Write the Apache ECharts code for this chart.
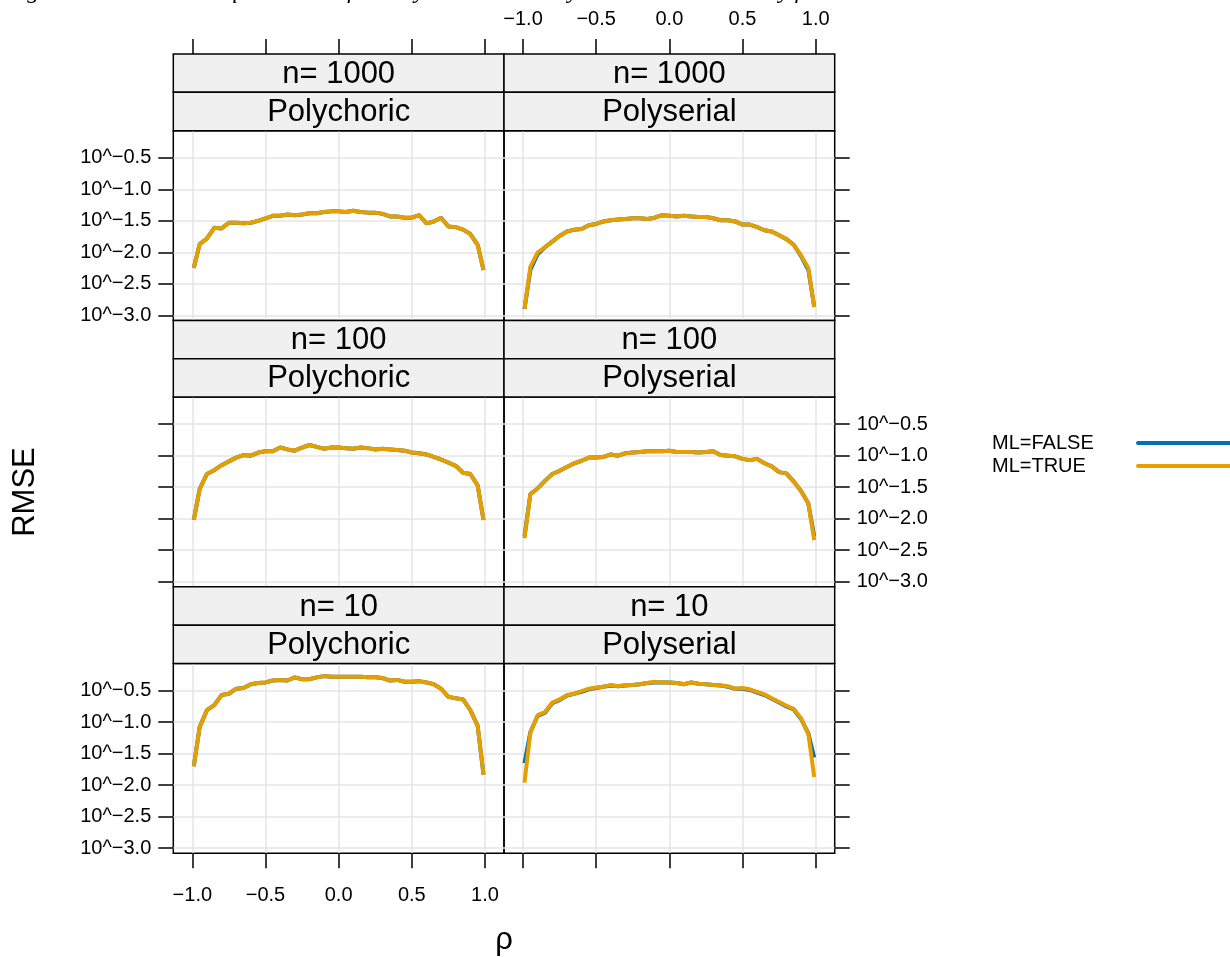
<!DOCTYPE html>
<html><head><meta charset="utf-8">
<script src="https://cdn.jsdelivr.net/npm/echarts@6/dist/echarts.min.js"></script>
<style>html,body{margin:0;padding:0;background:#fff}#c{width:1230px;height:957px}</style>
</head><body><div id="c"></div><script>
// ---- data (log10 RMSE) ----
const rho = [-0.99,-0.95,-0.90,-0.85,-0.80,-0.75,-0.70,-0.65,-0.60,-0.55,-0.50,-0.45,-0.40,-0.35,-0.30,-0.25,-0.20,-0.15,-0.10,-0.05,0.00,0.05,0.10,0.15,0.20,0.25,0.30,0.35,0.40,0.45,0.50,0.55,0.60,0.65,0.70,0.75,0.80,0.85,0.90,0.95,0.99];
const sampleSizes = ['n= 1000','n= 100','n= 10'];
const corrTypes = ['Polychoric','Polyserial'];
const seriesNames = ['ML=FALSE','ML=TRUE'];
const xTicks = [-1.0,-0.5,0.0,0.5,1.0];
const yTicks = [-3.0,-2.5,-2.0,-1.5,-1.0,-0.5];

const n1000_polychoric_false = [-2.25,-1.87,-1.78,-1.61,-1.62,-1.53,-1.53,-1.54,-1.53,-1.50,-1.46,-1.42,-1.42,-1.40,-1.41,-1.40,-1.38,-1.38,-1.36,-1.35,-1.35,-1.36,-1.34,-1.36,-1.37,-1.37,-1.39,-1.43,-1.43,-1.45,-1.45,-1.41,-1.54,-1.51,-1.45,-1.59,-1.60,-1.64,-1.71,-1.88,-2.28];
const n1000_polychoric_true  = [-2.25,-1.87,-1.78,-1.61,-1.62,-1.53,-1.53,-1.54,-1.53,-1.50,-1.46,-1.42,-1.42,-1.40,-1.41,-1.40,-1.38,-1.38,-1.36,-1.35,-1.35,-1.36,-1.34,-1.36,-1.37,-1.37,-1.39,-1.43,-1.43,-1.45,-1.45,-1.41,-1.54,-1.51,-1.45,-1.59,-1.60,-1.64,-1.71,-1.88,-2.28];
const n1000_polyserial_false = [-2.90,-2.28,-2.03,-1.92,-1.83,-1.74,-1.67,-1.64,-1.63,-1.57,-1.55,-1.51,-1.49,-1.48,-1.47,-1.46,-1.46,-1.47,-1.45,-1.41,-1.42,-1.43,-1.42,-1.43,-1.44,-1.44,-1.46,-1.49,-1.49,-1.51,-1.56,-1.56,-1.60,-1.65,-1.67,-1.73,-1.79,-1.88,-2.06,-2.28,-2.86];
const n1000_polyserial_true  = [-2.90,-2.23,-2.00,-1.92,-1.83,-1.74,-1.67,-1.64,-1.63,-1.57,-1.55,-1.51,-1.49,-1.48,-1.47,-1.46,-1.46,-1.47,-1.45,-1.41,-1.42,-1.43,-1.42,-1.43,-1.44,-1.44,-1.46,-1.49,-1.49,-1.51,-1.56,-1.56,-1.60,-1.65,-1.67,-1.73,-1.79,-1.88,-2.05,-2.25,-2.87];
const n100_polychoric_false  = [-2.02,-1.53,-1.29,-1.23,-1.15,-1.09,-1.03,-0.99,-1.00,-0.95,-0.93,-0.93,-0.87,-0.90,-0.92,-0.87,-0.83,-0.86,-0.89,-0.87,-0.87,-0.88,-0.89,-0.87,-0.88,-0.90,-0.89,-0.90,-0.91,-0.92,-0.95,-0.96,-0.98,-1.02,-1.06,-1.11,-1.16,-1.27,-1.29,-1.47,-2.02];
const n100_polychoric_true   = [-2.02,-1.53,-1.29,-1.23,-1.15,-1.09,-1.03,-0.99,-1.00,-0.95,-0.93,-0.93,-0.87,-0.90,-0.92,-0.87,-0.83,-0.86,-0.89,-0.87,-0.87,-0.88,-0.89,-0.87,-0.88,-0.90,-0.89,-0.90,-0.91,-0.92,-0.95,-0.96,-0.98,-1.02,-1.06,-1.11,-1.16,-1.27,-1.29,-1.47,-2.02];
const n100_polyserial_false  = [-2.28,-1.61,-1.52,-1.40,-1.29,-1.24,-1.18,-1.12,-1.08,-1.03,-1.03,-1.02,-0.98,-1.00,-0.96,-0.95,-0.94,-0.93,-0.93,-0.93,-0.92,-0.94,-0.94,-0.94,-0.95,-0.94,-0.93,-0.99,-1.00,-1.01,-1.05,-1.07,-1.05,-1.12,-1.17,-1.26,-1.28,-1.41,-1.56,-1.76,-2.28];
const n100_polyserial_true   = [-2.31,-1.61,-1.52,-1.40,-1.29,-1.24,-1.18,-1.12,-1.08,-1.03,-1.03,-1.02,-0.98,-1.00,-0.96,-0.95,-0.94,-0.93,-0.93,-0.93,-0.92,-0.94,-0.94,-0.94,-0.95,-0.94,-0.93,-0.99,-1.00,-1.01,-1.05,-1.07,-1.05,-1.12,-1.17,-1.26,-1.28,-1.41,-1.56,-1.76,-2.34];
const n10_polychoric_false   = [-1.70,-1.08,-0.81,-0.73,-0.57,-0.55,-0.47,-0.46,-0.40,-0.38,-0.37,-0.34,-0.33,-0.34,-0.29,-0.32,-0.32,-0.29,-0.27,-0.28,-0.28,-0.28,-0.28,-0.28,-0.29,-0.29,-0.30,-0.34,-0.33,-0.36,-0.36,-0.35,-0.37,-0.40,-0.47,-0.60,-0.62,-0.64,-0.81,-1.06,-1.83];
const n10_polychoric_true    = [-1.70,-1.08,-0.81,-0.73,-0.57,-0.55,-0.47,-0.46,-0.40,-0.38,-0.37,-0.34,-0.33,-0.34,-0.29,-0.32,-0.32,-0.29,-0.27,-0.28,-0.28,-0.28,-0.28,-0.28,-0.29,-0.29,-0.30,-0.34,-0.33,-0.36,-0.36,-0.35,-0.37,-0.40,-0.47,-0.60,-0.62,-0.64,-0.81,-1.06,-1.83];
const n10_polyserial_false   = [-1.65,-1.16,-0.90,-0.85,-0.70,-0.65,-0.58,-0.55,-0.52,-0.48,-0.46,-0.44,-0.42,-0.43,-0.42,-0.41,-0.40,-0.38,-0.37,-0.37,-0.37,-0.38,-0.40,-0.37,-0.39,-0.40,-0.41,-0.42,-0.44,-0.47,-0.47,-0.49,-0.53,-0.57,-0.63,-0.69,-0.75,-0.80,-0.95,-1.18,-1.56];
const n10_polyserial_true    = [-1.96,-1.17,-0.89,-0.84,-0.69,-0.64,-0.57,-0.55,-0.51,-0.47,-0.45,-0.44,-0.41,-0.43,-0.41,-0.41,-0.40,-0.38,-0.36,-0.37,-0.37,-0.38,-0.40,-0.37,-0.39,-0.40,-0.41,-0.42,-0.43,-0.47,-0.46,-0.48,-0.52,-0.56,-0.62,-0.68,-0.74,-0.79,-0.94,-1.19,-1.87];

const panelData = [
  [[n1000_polychoric_false, n1000_polychoric_true], [n1000_polyserial_false, n1000_polyserial_true]],
  [[n100_polychoric_false,  n100_polychoric_true],  [n100_polyserial_false,  n100_polyserial_true]],
  [[n10_polychoric_false,   n10_polychoric_true],   [n10_polyserial_false,   n10_polyserial_true]]
];

// ---- layout ----
const FONT = 'Liberation Sans, Arial, Helvetica, sans-serif';
const colX = [173.3, 504], colW = 330.7;
const rowY = [54, 320.4, 586.8], stripH = 38.35, plotH = 189.7;
const colors = ['#0072B2', '#E69F00'];
const minus = s => s.replace('-', '\u2212');
const fmtX = v => minus(Number(v).toFixed(1));
const fmtY = v => '10^' + minus(Number(v).toFixed(1));

const grid = [], xAxis = [], yAxis = [], series = [], graphics = [];
let gi = 0;
for (let r = 0; r < 3; r++) {
  for (let c = 0; c < 2; c++) {
    const top = rowY[r] + 2 * stripH;
    grid.push({left: colX[c], top: top, width: colW, height: plotH, show: true,
      borderColor: '#000', borderWidth: 1.5, backgroundColor: 'transparent'});
    const showXTicks = r === 0 || r === 2;
    const showXLab = (r === 0 && c === 1) || (r === 2 && c === 0);
    xAxis.push({type: 'value', gridIndex: gi, min: -1.13, max: 1.13,
      position: r === 0 ? 'top' : 'bottom', offset: r === 0 ? 2 * stripH : 0,
      axisLine: {show: false, onZero: false},
      axisTick: {show: showXTicks, customValues: xTicks, length: 15, inside: false, lineStyle: {color: '#000', width: 1.5}},
      axisLabel: {show: showXLab, customValues: xTicks, formatter: fmtX, fontSize: 20, color: '#000', fontFamily: FONT, margin: r === 0 ? 25 : 32},
      splitLine: {show: true, lineStyle: {color: '#e4e4e4', width: 1.5}}
    });
    const showYLab = (c === 0 && r !== 1) || (c === 1 && r === 1);
    yAxis.push({type: 'value', gridIndex: gi, min: -3.08, max: -0.07,
      position: c === 0 ? 'left' : 'right',
      axisLine: {show: false, onZero: false},
      axisTick: {show: true, customValues: yTicks, length: 15, inside: false, lineStyle: {color: '#000', width: 1.5}},
      axisLabel: {show: showYLab, customValues: yTicks, formatter: fmtY, fontSize: 20, color: '#000', fontFamily: FONT, margin: 22},
      splitLine: {show: true, lineStyle: {color: '#e4e4e4', width: 1.5}}
    });
    for (let s = 0; s < 2; s++) {
      series.push({type: 'line', name: seriesNames[s], xAxisIndex: gi, yAxisIndex: gi,
        data: rho.map((x, i) => [x, panelData[r][c][s][i]]),
        showSymbol: false, symbol: 'none', lineStyle: {color: colors[s], width: 4}, itemStyle: {color: colors[s]},
        z: 3 + s, silent: true, animation: false});
    }
    // strips
    const labels = [sampleSizes[r], corrTypes[c]];
    for (let k = 0; k < 2; k++) {
      graphics.push({type: 'rect', shape: {x: colX[c], y: rowY[r] + k * stripH, width: colW, height: stripH},
        style: {fill: '#F0F0F0', stroke: '#000', lineWidth: 1.5}, z: 10});
      graphics.push({type: 'text', x: colX[c] + colW / 2, y: rowY[r] + k * stripH + stripH / 2 + 1,
        style: {text: labels[k], font: '31px ' + FONT, fill: '#000', textAlign: 'center', textVerticalAlign: 'middle'}, z: 11});
    }
    gi++;
  }
}
// legend (key): label on the left, line sample on the right
seriesNames.forEach((name, i) => {
  const y = 443 + i * 23;
  graphics.push({type: 'text', x: 992, y: y,
    style: {text: name, font: '20px ' + FONT, fill: '#000', textAlign: 'left', textVerticalAlign: 'middle'}});
  graphics.push({type: 'line', shape: {x1: 1138, y1: y, x2: 1230, y2: y},
    style: {stroke: colors[i], lineWidth: 4, lineCap: 'round'}});
});
// axis titles and caption remnant
graphics.push({type: 'text', x: 25, y: 492, rotation: Math.PI / 2,
  style: {text: 'RMSE', font: '31px ' + FONT, fill: '#000', textAlign: 'center', textVerticalAlign: 'middle'}});
graphics.push({type: 'text', x: 504, y: 940,
  style: {text: 'ρ', font: '31px ' + FONT, fill: '#000', textAlign: 'center', textVerticalAlign: 'middle'}});
graphics.push({type: 'text', x: 6, y: 4,
  style: {text: 'Figure 4: Root Mean Square Error for Polychoric and Polyserial Correlations by ρ', font: 'italic 24px Liberation Serif, serif', fill: '#000', textAlign: 'left', textVerticalAlign: 'bottom'}});

const chart = echarts.init(document.getElementById('c'), null, {renderer: 'canvas'});
chart.setOption({
  animation: false,
  backgroundColor: '#fff',
  grid, xAxis, yAxis, series,
  graphic: graphics
});
</script></body></html>
